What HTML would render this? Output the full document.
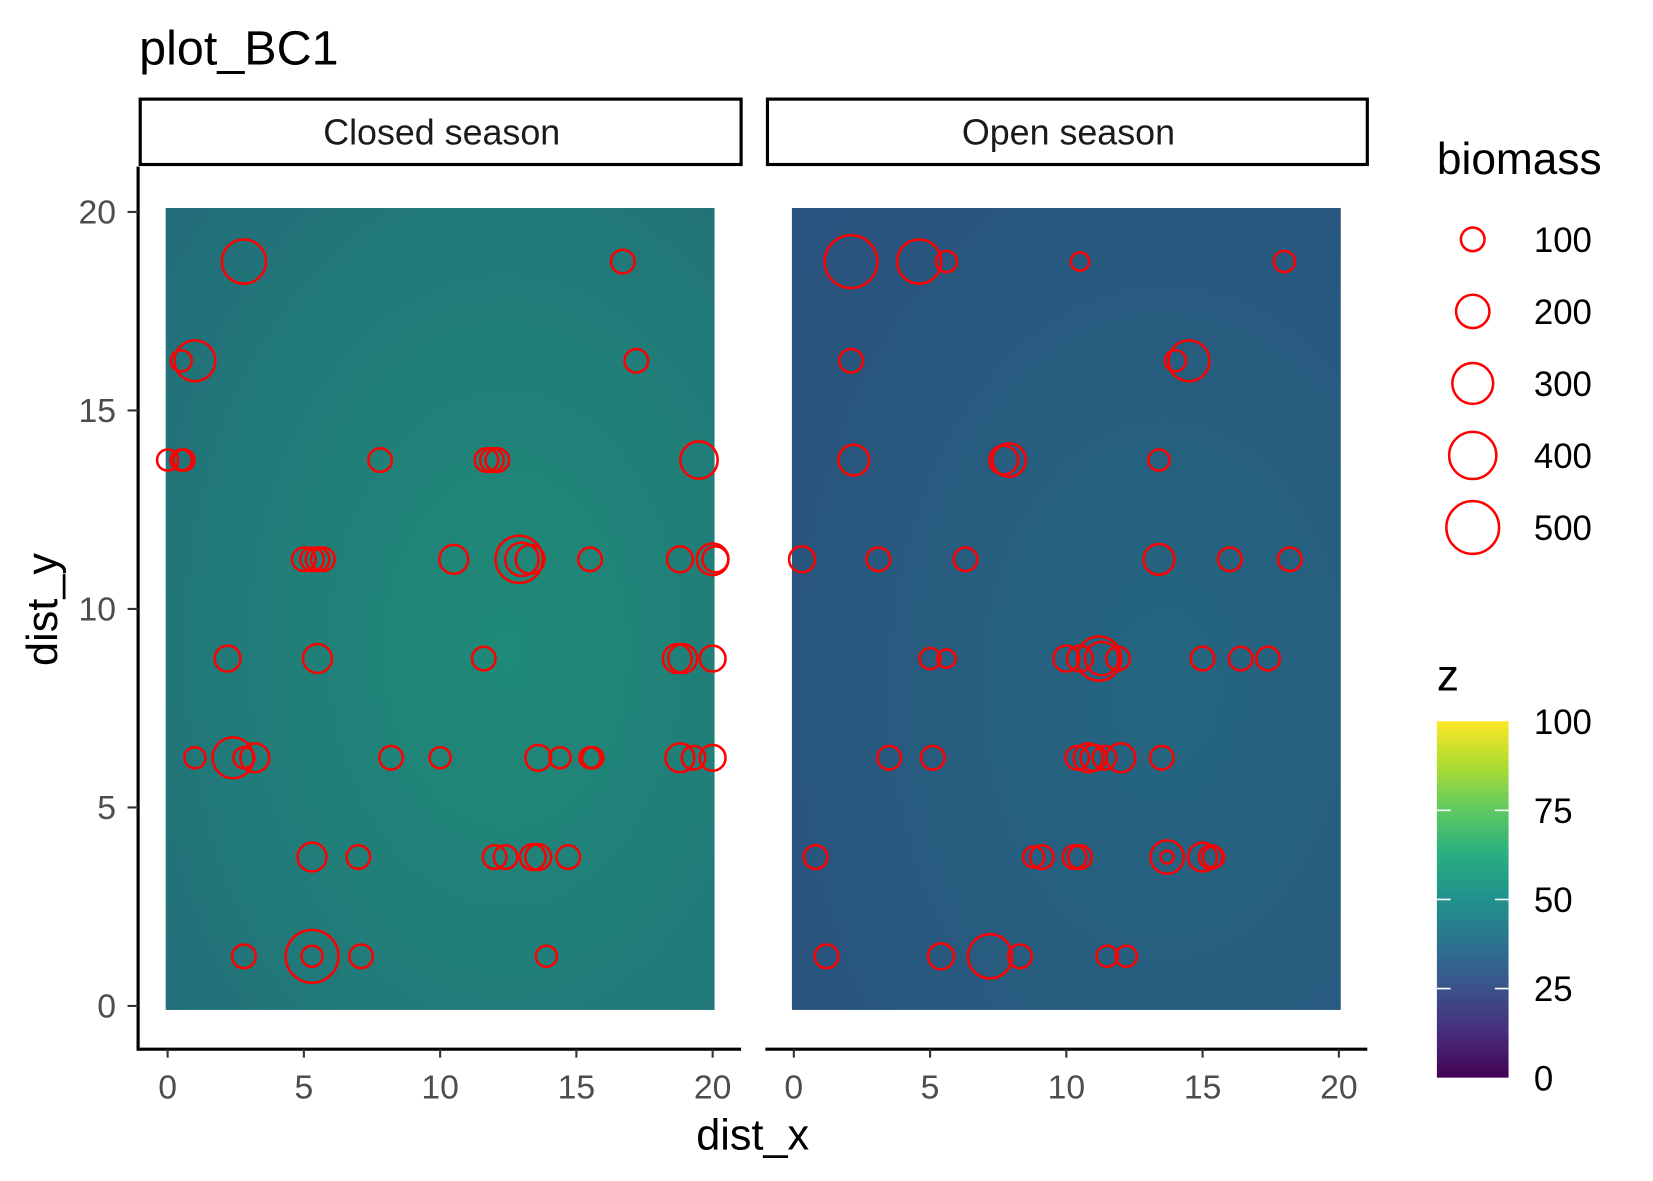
<!DOCTYPE html>
<html><head><meta charset="utf-8"><style>
html,body{margin:0;padding:0;background:#fff;}
svg{display:block;font-family:"Liberation Sans",Arial,sans-serif;}
</style></head><body>
<svg id="chart" width="1653" height="1181" viewBox="0 0 1568 1120" preserveAspectRatio="none" xmlns="http://www.w3.org/2000/svg">
<defs>
<radialGradient id="gL" cx="0.62" cy="0.55" r="0.8">
<stop offset="0" stop-color="#1f8a78"/><stop offset="0.6" stop-color="#217c79"/><stop offset="1" stop-color="#226c79"/>
</radialGradient>
<radialGradient id="gR" cx="0.68" cy="0.6" r="0.85">
<stop offset="0" stop-color="#246780"/><stop offset="1" stop-color="#2a527e"/>
</radialGradient>
<linearGradient id="gZ" x1="0" y1="1" x2="0" y2="0">
<stop offset="0" stop-color="#440154"/><stop offset="0.125" stop-color="#472d7b"/><stop offset="0.25" stop-color="#3b528b"/>
<stop offset="0.375" stop-color="#2c728e"/><stop offset="0.5" stop-color="#21918c"/><stop offset="0.625" stop-color="#28ae80"/>
<stop offset="0.75" stop-color="#5ec962"/><stop offset="0.875" stop-color="#addc30"/><stop offset="1" stop-color="#fde725"/>
</linearGradient>
</defs>
<text x="132" y="61" font-size="46" fill="#000">plot_BC1</text>
<g id="panels"></g>
<text x="714" y="1090" font-size="41" text-anchor="middle" fill="#000">dist_x</text>
<text transform="translate(54,578) rotate(-90)" font-size="41" text-anchor="middle" fill="#000">dist_y</text>
<g id="sizeLegend">
<text x="1363" y="165" font-size="42" fill="#000">biomass</text>
</g>
<g id="colorLegend">
<text x="1363" y="655" font-size="42" fill="#000">z</text>
<rect x="1363" y="684" width="68" height="338" fill="url(#gZ)"/>
</g>
</svg>
<script>
const rowsY = [1.25,3.75,6.25,8.75,11.25,13.75,16.25,18.75];
const closedX = [2.8,16.7, 0.5,1.0,17.2, 0,0.5,0.6,7.8,11.7,11.9,12.1,19.5, 5.0,5.3,5.5,5.7,10.5,12.9,13.0,13.3,15.5,18.8,20.0,20.1, 2.2,5.5,11.6,18.7,18.9,20.0, 1.0,2.4,2.8,3.2,8.2,10.0,13.6,14.4,15.5,15.6,18.8,19.3,20.0, 5.3,7.0,12.0,12.4,13.4,13.6,14.7, 2.8,5.3,5.3,7.1,13.9];
const closedY = [18.75,18.75, 16.25,16.25,16.25, 13.75,13.75,13.75,13.75,13.75,13.75,13.75,13.75, 11.25,11.25,11.25,11.25,11.25,11.25,11.25,11.25,11.25,11.25,11.25,11.25, 8.75,8.75,8.75,8.75,8.75,8.75, 6.25,6.25,6.25,6.25,6.25,6.25,6.25,6.25,6.25,6.25,6.25,6.25,6.25, 3.75,3.75,3.75,3.75,3.75,3.75,3.75, 1.25,1.25,1.25,1.25,1.25];
const closedB = [350,100, 80,300,100, 80,80,80,100,100,100,100,250, 100,100,100,100,150,400,200,150,100,120,180,120, 120,150,100,150,150,120, 80,300,80,150,100,80,120,80,80,80,150,100,120, 150,100,100,100,120,120,100, 100,500,80,100,80];
const openX = [2.1,4.6,5.6,10.5,18.0, 2.1,14.0,14.5, 2.2,7.7,7.9,13.4, 0.3,3.1,6.3,13.4,16.0,18.2, 5.0,5.6,10.0,10.5,11.2,11.3,11.9,15.0,16.4,17.4, 3.5,5.1,10.4,10.8,11.0,11.4,12.0,13.5, 0.8,8.8,9.1,10.3,10.5,13.7,13.7,15.0,15.3,15.4, 1.2,5.4,7.2,8.3,11.5,12.2];
const openY = [18.75,18.75,18.75,18.75,18.75, 16.25,16.25,16.25, 13.75,13.75,13.75,13.75, 11.25,11.25,11.25,11.25,11.25,11.25, 8.75,8.75,8.75,8.75,8.75,8.75,8.75,8.75,8.75,8.75, 6.25,6.25,6.25,6.25,6.25,6.25,6.25,6.25, 3.75,3.75,3.75,3.75,3.75,3.75,3.75,3.75,3.75,3.75, 1.25,1.25,1.25,1.25,1.25,1.25];
const openB = [500,350,80,60,80, 100,80,300, 170,150,200,80, 120,100,100,170,100,100, 80,60,120,120,350,200,100,100,100,100, 100,100,100,150,120,100,150,100, 100,80,100,100,100,200,30,150,100,80, 100,120,350,100,80,80];
const xTicks = [0,5,10,15,20];
const yTicks = [0,5,10,15,20];
const legendVals = [100,200,300,400,500];
const zTicks = [0,25,50,75,100];

const NS = "http://www.w3.org/2000/svg";
function mk(tag, attrs, parent){const e=document.createElementNS(NS,tag);for(const k in attrs)e.setAttribute(k,attrs[k]);parent.appendChild(e);return e;}
const rScale = b => 1.118*Math.sqrt(b);
const yScale = v => 954 - v*37.65;
const panels = [
 {name:'closed', label:'Closed season', x0:131, x1:703, ox:159, grad:'url(#gL)', xs:closedX, ys:closedY, bs:closedB},
 {name:'open', label:'Open season', x0:726, x1:1297, ox:753, grad:'url(#gR)', xs:openX, ys:openY, bs:openB}
];
const root = document.getElementById('panels');
panels.forEach(p=>{
  const xScale = v => p.ox + v*25.85;
  const g = mk('g',{},root);
  
  
  const strip = mk('rect',{x:p.x0+2,y:94,width:p.x1-p.x0-2,height:62,fill:'#fff',stroke:'#000','stroke-width':3},g);
  
  
  const st = mk('text',{x:(p.x0+p.x1)/2+2,y:137,'font-size':34,'text-anchor':'middle',fill:'#1a1a1a'},g);
  st.textContent = p.label;
  
  
  const bg = mk('rect',{x:xScale(-0.07),y:yScale(20.1),width:xScale(20.07)-xScale(-0.07),height:yScale(-0.1)-yScale(20.1),fill:p.grad},g);
  
  
  p.xs.forEach((xv,i)=>{
    const c = mk('circle',{cx:xScale(xv),cy:yScale(p.ys[i]),r:rScale(p.bs[i]),fill:'none',stroke:'#ff0000','stroke-width':2.4},g);
    
    
  });
  const ax = mk('line',{x1:p.x0,y1:995,x2:p.x1,y2:995,stroke:'#000','stroke-width':3},g);
  
  
  xTicks.forEach(t=>{
    const tl = mk('line',{x1:xScale(t),y1:995,x2:xScale(t),y2:1003,stroke:'#333','stroke-width':2},g);
    
    
    const tx = mk('text',{x:xScale(t),y:1042,'font-size':32,'text-anchor':'middle',fill:'#4d4d4d'},g);
    tx.textContent = t;
    
    
  });
});
const ya = mk('line',{x1:131,y1:158,x2:131,y2:996.5,stroke:'#000','stroke-width':3},root);


yTicks.forEach(t=>{
  const tl = mk('line',{x1:121,y1:yScale(t),x2:131,y2:yScale(t),stroke:'#333','stroke-width':2},root);
  
  
  const tx = mk('text',{x:110,y:yScale(t)+11,'font-size':32,'text-anchor':'end',fill:'#4d4d4d'},root);
  tx.textContent = t;
  
  
});
const sl = document.getElementById('sizeLegend');
legendVals.forEach((v,i)=>{
  const cy = 227 + i*68.3;
  const c = mk('circle',{cx:1397,cy:cy,r:rScale(v),fill:'none',stroke:'#ff0000','stroke-width':2.4},sl);
  
  
  const t = mk('text',{x:1455,y:cy+12,'font-size':33,fill:'#000'},sl);
  t.textContent = v;
  
  
});
const cl = document.getElementById('colorLegend');
zTicks.forEach(v=>{
  const y = 1022 - v/100*338;
  if(v>0 && v<100){
    mk('line',{x1:1363,y1:y,x2:1376,y2:y,stroke:'#fff','stroke-width':1.5},cl);
    mk('line',{x1:1418,y1:y,x2:1431,y2:y,stroke:'#fff','stroke-width':1.5},cl);
  }
  const t = mk('text',{x:1455,y:y+12,'font-size':33,fill:'#000'},cl);
  t.textContent = v;
  
  
});
</script>
</body></html>
